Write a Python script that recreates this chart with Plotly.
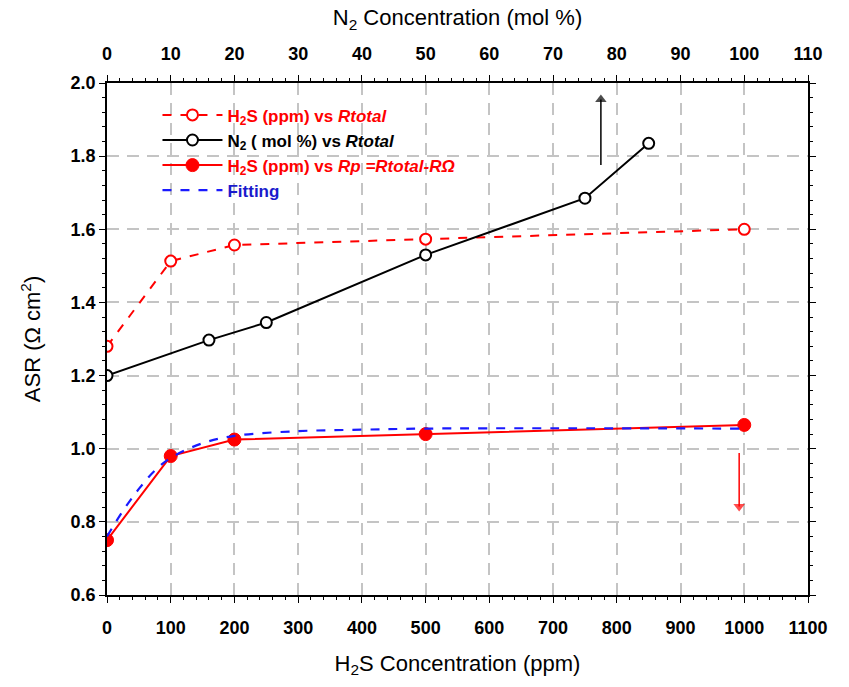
import plotly.graph_objects as go

# H2S concentration (ppm) vs total ASR
h2s_ppm = [0, 100, 200, 500, 1000]
asr_total_h2s = [1.28, 1.513, 1.557, 1.573, 1.60]

# N2 concentration (mol %) vs total ASR
n2_mol = [0, 16, 25, 50, 75, 85]
asr_total_n2 = [1.20, 1.297, 1.345, 1.53, 1.685, 1.835]

# H2S concentration (ppm) vs polarization ASR (Rp = Rtotal - R_ohm)
asr_rp_h2s = [0.75, 0.98, 1.025, 1.04, 1.065]

# Fitted curve for Rp
fit_ppm = [0, 25, 50, 75, 100, 150, 200, 300, 400, 500, 700, 1000]
fit_asr = [0.76, 0.83, 0.89, 0.94, 0.975, 1.015, 1.035, 1.048, 1.052, 1.055, 1.056, 1.055]

# Direction arrows (tail -> head): black toward the N2 axis, red toward the H2S axis
arrow_n2_x = [775, 775]
arrow_n2_y = [1.776, 1.955]
arrow_h2s_x = [992, 992]
arrow_h2s_y = [0.988, 0.842]

RED = "#ff0000"
BLUE = "#1a1aff"
FONT = "Liberation Sans, Arial, sans-serif"

fig = go.Figure()

fig.add_trace(go.Scatter(
    x=h2s_ppm, y=asr_total_h2s, mode="lines+markers",
    name="<span style='color:#ff0000'>H<sub>2</sub>S (ppm) vs <i>Rtotal</i></span>",
    line=dict(color=RED, width=2, dash="dash"),
    marker=dict(symbol="circle", size=11, color="white", line=dict(color=RED, width=2)),
))
fig.add_trace(go.Scatter(
    x=n2_mol, y=asr_total_n2, mode="lines+markers", xaxis="x2",
    name="<span style='color:#000000'>N<sub>2</sub> ( mol %) vs <i>Rtotal</i></span>",
    line=dict(color="black", width=2),
    marker=dict(symbol="circle", size=11, color="white", line=dict(color="black", width=2)),
))
fig.add_trace(go.Scatter(
    x=h2s_ppm, y=asr_rp_h2s, mode="lines+markers",
    name="<span style='color:#ff0000'>H<sub>2</sub>S (ppm) vs <i>Rp =Rtotal-RΩ</i></span>",
    line=dict(color=RED, width=2),
    marker=dict(symbol="circle", size=13, color=RED, line=dict(color=RED, width=1)),
))
fig.add_trace(go.Scatter(
    x=fit_ppm, y=fit_asr, mode="lines", line_shape="spline",
    name="<span style='color:#1a1acc'>Fitting</span>",
    line=dict(color=BLUE, width=2.2, dash="dash"),
))

for ax_x, ax_y, col, head in [(arrow_n2_x, arrow_n2_y, "black", "triangle-up"),
                              (arrow_h2s_x, arrow_h2s_y, RED, "triangle-down")]:
    fig.add_trace(go.Scatter(
        x=ax_x, y=ax_y, mode="lines+markers", showlegend=False, hoverinfo="skip",
        line=dict(color=col, width=1.5),
        marker=dict(symbol=["circle", head], size=[0, 10], color=col, line=dict(width=0)),
    ))

tickfont = dict(family=FONT, size=18, color="black", weight="bold")
titlefont = dict(family=FONT, size=22, color="black")
grid = dict(showgrid=True, gridcolor="#c4c4c4", gridwidth=1.5, griddash="12px,8px")

fig.update_layout(
    width=849, height=687,
    margin=dict(l=107, r=41, t=83, b=92),
    plot_bgcolor="white", paper_bgcolor="white",
    showlegend=True,
    legend=dict(
        x=0.072, y=0.972, xanchor="left", yanchor="top",
        bgcolor="rgba(0,0,0,0)", itemwidth=60,
        font=dict(family=FONT, size=17, color="black", weight="bold"),
        tracegroupgap=0,
    ),
    xaxis=dict(
        range=[0, 1100], tickvals=list(range(0, 1101, 100)),
        tickfont=tickfont, ticks="outside", ticklen=6, tickcolor="black",
        ticklabelstandoff=10,
        showline=True, linecolor="black", linewidth=1.5,
        zeroline=False, **grid,
        minor=dict(dtick=20, ticks="outside", ticklen=3, tickcolor="black", showgrid=False),
        title=dict(text="H<sub>2</sub>S Concentration (ppm)", font=titlefont, standoff=18),
    ),
    xaxis2=dict(
        range=[0, 110], overlaying="x", side="top",
        tickvals=list(range(0, 111, 10)),
        tickfont=dict(family="Liberation Sans Narrow, " + FONT, size=18, color="black", weight="bold"),
        ticks="outside", ticklen=6, tickcolor="black", ticklabelstandoff=8,
        showline=True, linecolor="black", linewidth=1.5, showgrid=False, zeroline=False,
        minor=dict(dtick=2, ticks="outside", ticklen=3, tickcolor="black", showgrid=False),
        title=dict(text="N<sub>2</sub> Concentration (mol %)", font=titlefont, standoff=12),
    ),
    yaxis=dict(
        range=[0.6, 2.0], tickvals=[0.6, 0.8, 1.0, 1.2, 1.4, 1.6, 1.8, 2.0],
        tickformat=".1f", tickfont=tickfont, ticks="outside", ticklen=6, tickcolor="black",
        showline=True, linecolor="black", linewidth=1.5, mirror="ticks",
        zeroline=False, **grid,
        minor=dict(dtick=0.04, ticks="outside", ticklen=3, tickcolor="black", showgrid=False),
        title=dict(text="ASR (Ω cm<sup>2</sup>)", font=titlefont, standoff=24),
    ),
)

fig.write_html("out.html")
